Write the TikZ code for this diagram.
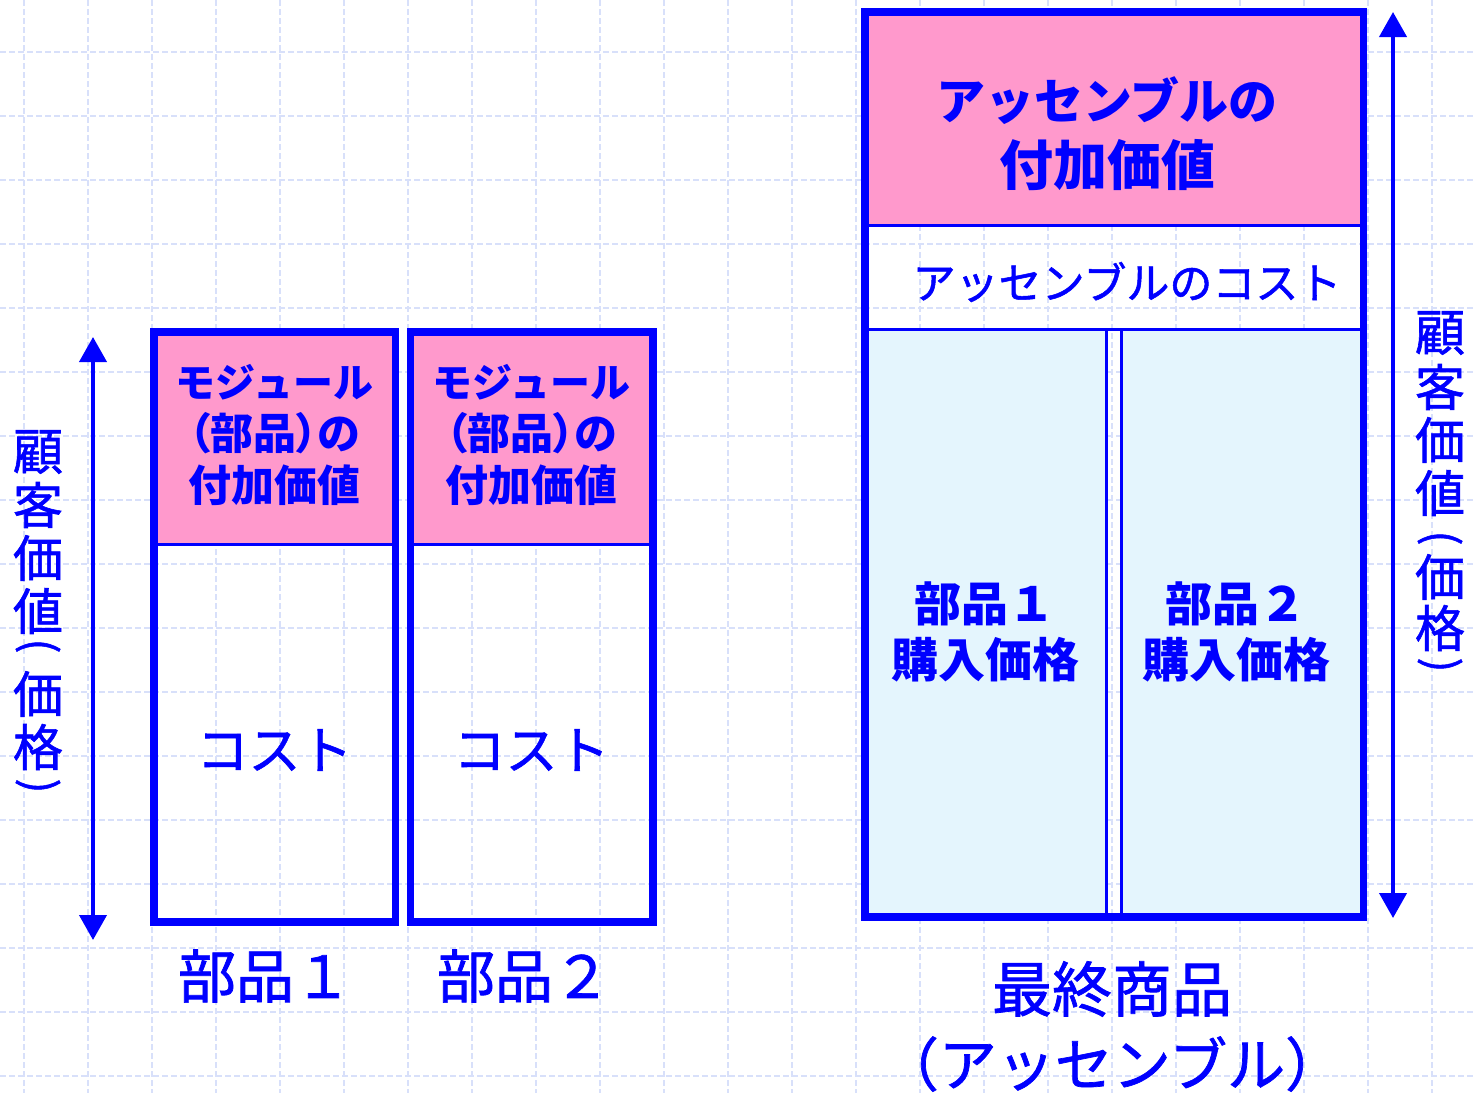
\documentclass[tikz,border=0pt]{standalone}
\usepackage{fontspec}
\usetikzlibrary{arrows.meta}
\newfontfamily\jp{Noto Sans CJK JP}
\newfontfamily\jpm{Noto Sans CJK JP}[FakeBold=1.2]
\definecolor{myblue}{RGB}{0,0,255}
\definecolor{mypink}{RGB}{255,153,204}
\definecolor{mylight}{RGB}{228,245,253}
\definecolor{mygrid}{RGB}{216,224,250}
\tikzset{
  gridline/.style={draw=mygrid, line width=0.75pt, dash pattern=on 3pt off 1.5pt},
  thickborder/.style={draw=myblue, line width=3.75pt},
  thinrule/.style={draw=myblue, line width=1.5pt},
  jptxt/.style={text=myblue, inner sep=0pt, align=center},
  arrowline/.style={draw=myblue, line width=2pt, {Triangle[length=12.5pt,width=13.5pt]}-{Triangle[length=12.5pt,width=13.5pt]}},
  vchar/.style={jptxt, font=\jpm\fontsize{25}{25}\selectfont},
  vparen/.style={jptxt, font=\jpm\fontsize{22}{22}\selectfont, rotate=-90},
}
\begin{document}
\begin{tikzpicture}[x=0.5pt,y=-0.5pt]
\useasboundingbox (0,0) rectangle (1475,1093);
% grid
\foreach \i in {0,...,22} \draw[gridline] ({24+64*\i},0) -- ({24+64*\i},1093);
\foreach \j in {0,...,16} \draw[gridline] (0,{52+64*\j}) -- (1475,{52+64*\j});

% ---- left module boxes
\foreach \xa/\xb/\n in {154/395.5/1, 410.5/653/2}{
  \fill[mypink] (\xa,332) rectangle (\xb,544);
  \draw[thinrule] (\xa,544) -- (\xb,544);
  \draw[thickborder] (\xa,332) rectangle (\xb,922);
}
\node[jptxt, font=\jp\bfseries\fontsize{21.5}{26}\selectfont] (va1) at (274.5,435) {{\fontsize{20}{26}\selectfont モジュール}\\{\addfontfeature{RawFeature=+palt}（部品）の}\\付加価値};
\node[jptxt, font=\jp\bfseries\fontsize{21.5}{26}\selectfont] (va2) at (531.5,435) {{\fontsize{20}{26}\selectfont モジュール}\\{\addfontfeature{RawFeature=+palt}（部品）の}\\付加価値};
\node[jptxt, font=\jpm\fontsize{26}{26}\selectfont] (c1) at (274.5,750) {コスト};
\node[jptxt, font=\jpm\fontsize{26}{26}\selectfont] (c2) at (531.5,750) {コスト};
\node[jptxt, font=\jpm\fontsize{29}{29}\selectfont] (p1) at (265,976) {部品１};
\node[jptxt, font=\jpm\fontsize{29}{29}\selectfont] (p2) at (524,976) {部品２};

% left arrow
\coordinate (laTop) at (93,337);
\coordinate (laBot) at (93,940);
\draw[arrowline] (laTop) -- (laBot);
\foreach \c/\y [count=\k] in {顧/452, 客/505, 価/558, 値/611, 価/694, 格/747}
  \node[vchar] (lv\k) at (38,\y) {\c};
\node[vparen] (lpo) at (38,646) {(};
\node[vparen] (lpc) at (38,786) {)};

% ---- right assembly box
\fill[mypink] (865,12) rectangle (1363.5,225);
\draw[thinrule] (865,225) -- (1363.5,225);
\draw[thinrule] (865,329) -- (1363.5,329);
\filldraw[fill=mylight, thinrule] (865,329) rectangle (1106,917);
\filldraw[fill=mylight, thinrule] (1121,329) rectangle (1363.5,917);
\draw[thickborder] (865,12) rectangle (1363.5,917);

\node[jptxt, font=\jp\bfseries\fontsize{27}{33}\selectfont] (av) at (1107,134) {{\fontsize{24.5}{33}\selectfont アッセンブルの}\\付加価値};
\node[jptxt, font=\jpm\fontsize{21.5}{22.5}\selectfont] (ac) at (1127,282) {アッセンブルのコスト};
\node[jptxt, font=\jp\bfseries\fontsize{23.5}{28}\selectfont] (b1) at (985,632) {部品１\\購入価格};
\node[jptxt, font=\jp\bfseries\fontsize{23.5}{28}\selectfont] (b2) at (1236,632) {部品２\\購入価格};
\node[jptxt, font=\jpm\fontsize{30}{30}\selectfont] (fp) at (1112,989) {最終商品};
\node[jptxt, font=\jpm\fontsize{29}{30}\selectfont] (fa) at (1112,1064) {（アッセンブル）};

% right arrow
\coordinate (raTop) at (1393,12);
\coordinate (raBot) at (1393,918);
\draw[arrowline] (raTop) -- (raBot);
\foreach \c/\y [count=\k] in {顧/333, 客/387, 価/440, 値/493, 価/577, 格/628}
  \node[vchar] (rv\k) at (1440,\y) {\c};
\node[vparen] (rpo) at (1440,538) {(};
\node[vparen] (rpc) at (1440,665) {)};
\end{tikzpicture}
\end{document}
